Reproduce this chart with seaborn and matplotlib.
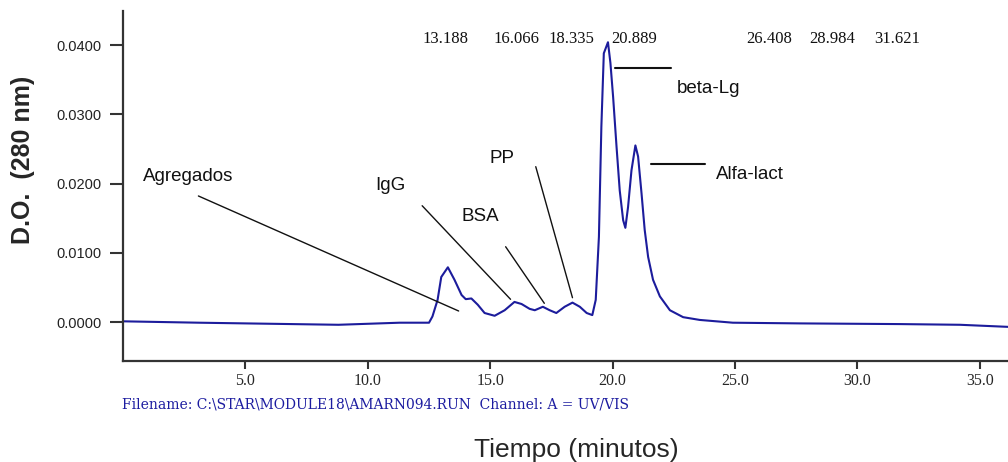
import matplotlib
matplotlib.use("Agg")
import matplotlib.pyplot as plt
import seaborn as sns
import pandas as pd

# ---------------- data ----------------
time_min = [0.0, 3.1, 8.8, 11.3, 12.5, 12.64, 12.85, 13.0, 13.27, 13.54,
            13.83, 14.0, 14.23, 14.49, 14.77, 15.18, 15.59, 15.99, 16.28, 16.61,
            16.82, 17.15, 17.43, 17.7, 18.04, 18.36, 18.66, 18.94, 19.17, 19.31,
            19.44, 19.54, 19.64, 19.81, 19.91, 20.02, 20.16, 20.29, 20.43, 20.52,
            20.63, 20.77, 20.93, 21.04, 21.18, 21.31, 21.45, 21.65, 21.93, 22.34,
            22.88, 23.56, 24.91, 27.65, 31.74, 34.19, 36.15]
absorbance = [0.0001, -0.0001, -0.0004, -0.0001, -0.0001, 0.0008, 0.0032, 0.0065, 0.0079, 0.0061,
              0.0039, 0.0033, 0.0034, 0.0025, 0.0013, 0.0009, 0.0017, 0.0029, 0.0026, 0.0019,
              0.0017, 0.0022, 0.0017, 0.0013, 0.0022, 0.0028, 0.0022, 0.0013, 0.0010, 0.0032,
              0.0123, 0.0282, 0.0388, 0.0404, 0.0374, 0.0325, 0.0253, 0.0190, 0.0147, 0.0136,
              0.0166, 0.0219, 0.0255, 0.0239, 0.0186, 0.0133, 0.0094, 0.0061, 0.0037, 0.0017,
              0.0007, 0.0003, -0.0001, -0.0002, -0.0003, -0.0004, -0.0007]

peak_times = [13.188, 16.066, 18.335, 20.889, 26.408, 28.984, 31.621]

x_ticks = [5.0, 10.0, 15.0, 20.0, 25.0, 30.0, 35.0]
y_ticks = [0.0, 0.01, 0.02, 0.03, 0.04]

compound_names = ["Agregados", "IgG", "BSA", "PP", "beta-Lg", "Alfa-lact"]

filename_text = "Filename: C:\\STAR\\MODULE18\\AMARN094.RUN  Channel: A = UV/VIS"
x_title = "Tiempo (minutos)"
y_title = "D.O.  (280 nm)"

# ---------------- layout / style ----------------
sns.set_style("white")
plt.rcParams["font.family"] = ["Liberation Sans", "DejaVu Sans"]

fig = plt.figure(figsize=(10.08, 4.62), dpi=100)
ax = fig.add_axes([123 / 1008, 101 / 462, 885 / 1008, 350 / 462])

df = pd.DataFrame({"t": time_min, "a": absorbance})
sns.lineplot(data=df, x="t", y="a", ax=ax, color="#1c1c9c", linewidth=1.5)

ax.set_xlim(0, 36.15)
ax.set_ylim(-0.00563, 0.04491)

for s in ["top", "right"]:
    ax.spines[s].set_visible(False)
for s in ["left", "bottom"]:
    ax.spines[s].set_color("#333333")
    ax.spines[s].set_linewidth(1.6)

ax.set_xticks(x_ticks)
ax.set_xticklabels([f"{v:.1f}" for v in x_ticks], family="Liberation Serif", fontsize=11.5)
ax.set_yticks(y_ticks)
ax.set_yticklabels([f"{v:.4f}" for v in y_ticks], family="Liberation Sans", fontsize=10.5,
                   color="#222222")
ax.tick_params(axis="y", direction="out", length=9.4, width=1.5, pad=5.8, color="#333333", left=True)
ax.tick_params(axis="x", direction="out", length=5.5, width=1.5, pad=3.0, color="#333333", bottom=True)

ax.set_xlabel(x_title, fontsize=19, va="baseline")
ax.xaxis.set_label_coords((576 - 123) / 885, (361 - 457) / 350)
ax.set_ylabel(y_title, fontsize=18, fontweight="bold")
ax.yaxis.label.set_va("center")
ax.yaxis.set_label_coords((23.5 - 123) / 885, (361 - 160) / 350)

# peak retention-time labels at top
for pt in peak_times:
    ax.text(pt, 0.0409, f"{pt:.3f}", ha="center", va="center",
            family="Liberation Serif", fontsize=12, color="#111111")

# compound annotations (text position, leader line start, leader line end)
ann_text_pos = [(0.83, 0.02108), (10.31, 0.01964), (13.82, 0.01521), (14.98, 0.02368),
                (22.61, 0.03375), (24.21, 0.02123)]
ann_line = [((3.08, 0.01820), (13.71, 0.00159)),
            ((12.22, 0.01679), (15.83, 0.00328)),
            ((15.63, 0.01087), (17.21, 0.00270)),
            ((16.86, 0.02243), (18.36, 0.00351)),
            ((20.11, 0.03664), (22.40, 0.03664)),
            ((21.55, 0.02277), (23.77, 0.02277))]
ann_lw = [1.0, 1.0, 1.0, 1.0, 1.5, 1.5]
for name, (tx, ty), ((x0, y0), (x1, y1)), lw in zip(compound_names, ann_text_pos, ann_line, ann_lw):
    ax.text(tx, ty, name, ha="left", va="center", fontsize=13.5, color="#111111")
    ax.plot([x0, x1], [y0, y1], color="#111111", linewidth=lw)

fig.text(122 / 1008, 1 - 404 / 462, filename_text, ha="left", va="center",
         family="DejaVu Serif", fontsize=10, color="#1c1ca0")

fig.savefig("out.png", dpi=100)
